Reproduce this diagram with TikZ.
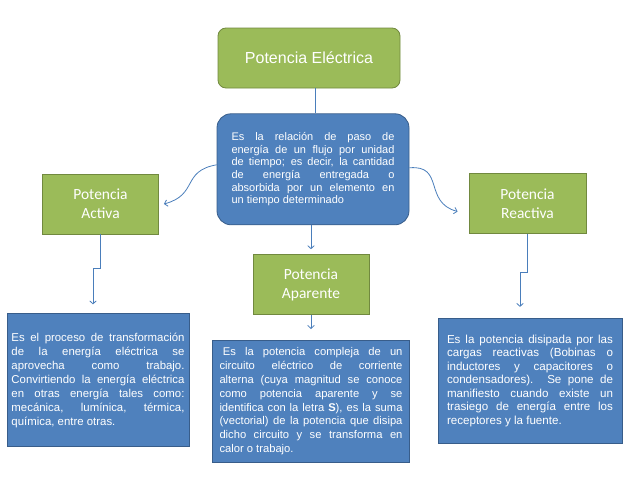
\documentclass[tikz,border=0pt]{standalone}
\usepackage{fontspec}
\setmainfont{Liberation Sans}
\newfontfamily\calibri{Carlito}
\usetikzlibrary{positioning, arrows.meta}
\definecolor{boxgreen}{HTML}{9BBB59}
\definecolor{greenline}{HTML}{71893F}
\definecolor{boxblue}{HTML}{4F81BD}
\definecolor{blueline}{HTML}{385D8A}
\definecolor{linkblue}{HTML}{4A7EBB}
\hyphenpenalty=10000
\exhyphenpenalty=10000
\tikzset{
>={Straight Barb[length=3pt, width=6.5pt]}, % thin open arrow heads
link/.style={linkblue, line width=0.8pt}, % the connectors
powerbox/.style={draw=greenline, fill=boxgreen, text=white, line width=0.8pt, minimum width=116pt, minimum height=60pt, align=center, font=\calibri\fontsize{15.5}{19}\selectfont}, % green title boxes
textbox/.style={draw=blueline, fill=boxblue, text=white, line width=0.8pt, align=justify, inner ysep=0pt}, % blue text boxes
}
\begin{document}
\begin{tikzpicture}[x=1pt, y=-1pt]
\useasboundingbox (0,0) rectangle (638,479);
\node[powerbox, rounded corners=8pt, minimum width=182pt, font=\fontsize{16}{19}\selectfont] (title) at (309,58) {Potencia Eléctrica};
\node[textbox, rounded corners=14pt, below=25pt of title, xshift=4pt, text width=163pt, inner xsep=14.5pt, minimum height=111pt, font=\fontsize{11}{12.7}\selectfont] (def) {Es la relación de paso de\linebreak energía de un flujo por unidad\linebreak de tiempo; es decir, la cantidad\linebreak de energía entregada o\linebreak absorbida por un elemento en\linebreak un tiempo determinado};
\node[powerbox] (activa) at (100.5,204) {Potencia\\Activa};
\node[powerbox, minimum width=117pt] (reactiva) at (527.5,203.5) {Potencia\\Reactiva};
\node[powerbox, below=29pt of def, xshift=-2pt] (aparente) {Potencia\\Aparente};
\node[textbox, below=79pt of activa, xshift=-2.5pt, text width=173pt, inner xsep=4.5pt, minimum height=133pt, font=\fontsize{11.4}{13.9}\selectfont] (activadesc) {Es el proceso de transformación\linebreak de la energía eléctrica se\linebreak aprovecha como trabajo.\linebreak Convirtiendo la energía eléctrica\linebreak en otras energía tales como:\linebreak mecánica, lumínica, térmica,\linebreak química, entre otras.};
\node[textbox, below=25pt of aparente, text width=183pt, inner xsep=7pt, minimum height=122pt, font=\fontsize{11.2}{13.8}\selectfont] (aparentedesc) {\hspace*{0.3em}Es la potencia compleja de un\linebreak circuito eléctrico de corriente\linebreak alterna (cuya magnitud se conoce\linebreak como potencia aparente y se\linebreak identifica con la letra \textbf{S}), es la suma\linebreak (vectorial) de la potencia que disipa\linebreak dicho circuito y se transforma en\linebreak calor o trabajo.};
\node[textbox, below=84pt of reactiva, xshift=2.5pt, text width=166pt, inner xsep=9pt, minimum height=125pt, font=\fontsize{11.6}{13.5}\selectfont] (reactivadesc) {Es la potencia disipada por las\linebreak cargas reactivas (Bobinas o\linebreak inductores y capacitores o\linebreak condensadores). Se pone de\linebreak manifiesto cuando existe un\linebreak trasiego de energía entre los\linebreak receptores y la fuente.};
% connectors
\draw[link] ([xshift=2pt]def.north) -- ([xshift=2pt]def.north |- title.south);
\draw[link, ->] (def.south -| aparente.north) -- ([yshift=5pt]aparente.north);
\draw[link, ->] (aparente.south) -- ([yshift=11pt]aparentedesc.north);
\draw[link, ->] (activa.south) -- ++(0,34) -| ([xshift=-5pt, yshift=9pt]activadesc.north);
\draw[link, ->] (reactiva.south) -- ++(0,38) -| ([xshift=-10pt, yshift=11pt]reactivadesc.north);
\draw[link, ->] ([yshift=4.5pt]def.west) to[out=190, in=15, looseness=1.4] ([xshift=5pt]activa.east);
\draw[link, ->] ([yshift=1.5pt]def.east) to[out=5, in=165, looseness=1.4] ([xshift=-11pt, yshift=-8pt]reactiva.west);
\end{tikzpicture}
\end{document}
